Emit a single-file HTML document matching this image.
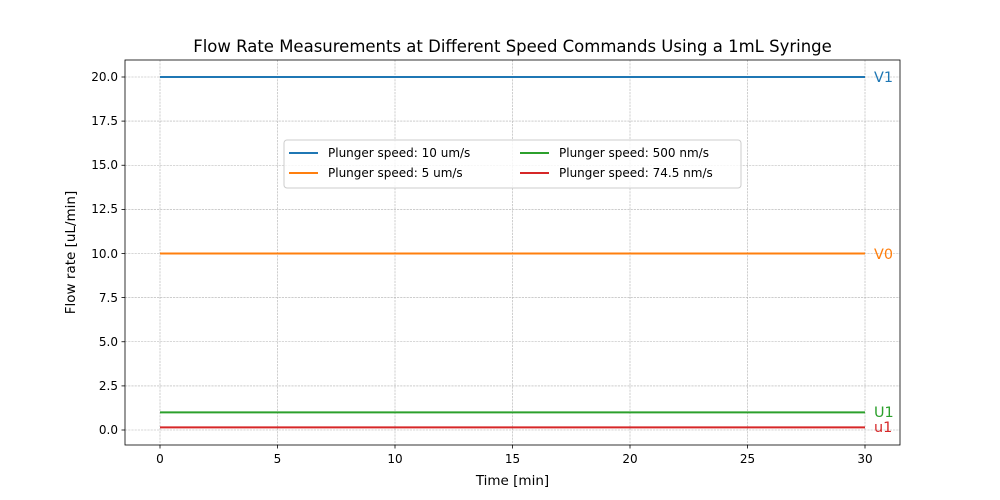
<!DOCTYPE html>
<html><head><style>body{margin:0;background:#fff}svg{display:block}</style></head><body>
<svg width="1000" height="500" xmlns="http://www.w3.org/2000/svg" font-family="DejaVu Sans, Liberation Sans, sans-serif">
<rect width="1000" height="500" fill="#fff"/>
<g stroke="#b0b0b0" stroke-width="0.6" stroke-dasharray="2.2,1">
<line x1="160" y1="60" x2="160" y2="445"/><line x1="277.5" y1="60" x2="277.5" y2="445"/><line x1="395" y1="60" x2="395" y2="445"/><line x1="512.5" y1="60" x2="512.5" y2="445"/><line x1="630" y1="60" x2="630" y2="445"/><line x1="747.5" y1="60" x2="747.5" y2="445"/><line x1="865" y1="60" x2="865" y2="445"/>
<line x1="125" y1="430" x2="900" y2="430"/><line x1="125" y1="385.9" x2="900" y2="385.9"/><line x1="125" y1="341.75" x2="900" y2="341.75"/><line x1="125" y1="297.6" x2="900" y2="297.6"/><line x1="125" y1="253.5" x2="900" y2="253.5"/><line x1="125" y1="209.4" x2="900" y2="209.4"/><line x1="125" y1="165.25" x2="900" y2="165.25"/><line x1="125" y1="121.1" x2="900" y2="121.1"/><line x1="125" y1="77" x2="900" y2="77"/>
</g>
<g stroke-width="2">
<line x1="160" y1="77" x2="865" y2="77" stroke="#1f77b4"/>
<line x1="160" y1="253.5" x2="865" y2="253.5" stroke="#ff7f0e"/>
<line x1="160" y1="412.35" x2="865" y2="412.35" stroke="#2ca02c"/>
<line x1="160" y1="427.4" x2="865" y2="427.4" stroke="#d62728"/>
</g>
<rect x="125" y="60" width="775" height="385" fill="none" stroke="#000" stroke-width="0.8"/>
<g stroke="#000" stroke-width="0.8">
<line x1="160" y1="445" x2="160" y2="448.5"/><line x1="277.5" y1="445" x2="277.5" y2="448.5"/><line x1="395" y1="445" x2="395" y2="448.5"/><line x1="512.5" y1="445" x2="512.5" y2="448.5"/><line x1="630" y1="445" x2="630" y2="448.5"/><line x1="747.5" y1="445" x2="747.5" y2="448.5"/><line x1="865" y1="445" x2="865" y2="448.5"/>
<line x1="121.5" y1="430" x2="125" y2="430"/><line x1="121.5" y1="385.9" x2="125" y2="385.9"/><line x1="121.5" y1="341.75" x2="125" y2="341.75"/><line x1="121.5" y1="297.6" x2="125" y2="297.6"/><line x1="121.5" y1="253.5" x2="125" y2="253.5"/><line x1="121.5" y1="209.4" x2="125" y2="209.4"/><line x1="121.5" y1="165.25" x2="125" y2="165.25"/><line x1="121.5" y1="121.1" x2="125" y2="121.1"/><line x1="121.5" y1="77" x2="125" y2="77"/>
</g>
<g font-size="12" text-anchor="middle">
<text x="160" y="463">0</text><text x="277.5" y="463">5</text><text x="395" y="463">10</text><text x="512.5" y="463">15</text><text x="630" y="463">20</text><text x="747.5" y="463">25</text><text x="865" y="463">30</text>
</g>
<g font-size="12" text-anchor="end">
<text x="118" y="434">0.0</text><text x="118" y="390">2.5</text><text x="118" y="346">5.0</text><text x="118" y="302">7.5</text><text x="118" y="258">10.0</text><text x="118" y="213">12.5</text><text x="118" y="169">15.0</text><text x="118" y="125">17.5</text><text x="118" y="81">20.0</text>
</g>
<text x="512.5" y="485" font-size="13.5" text-anchor="middle">Time [min]</text>
<text transform="translate(75,252.5) rotate(-90)" font-size="13.5" text-anchor="middle">Flow rate [uL/min]</text>
<text x="512.5" y="52" font-size="16.5" text-anchor="middle">Flow Rate Measurements at Different Speed Commands Using a 1mL Syringe</text>
<g font-size="14.4">
<text x="874" y="82" fill="#1f77b4">V1</text>
<text x="874" y="259" fill="#ff7f0e">V0</text>
<text x="874" y="417" fill="#2ca02c">U1</text>
<text x="874" y="432" fill="#d62728">u1</text>
</g>
<rect x="284" y="140" width="457" height="48" rx="3" fill="#fff" fill-opacity="0.8" stroke="#ccc" stroke-width="1"/>
<g stroke-width="2">
<line x1="289" y1="153" x2="318" y2="153" stroke="#1f77b4"/>
<line x1="289" y1="173" x2="318" y2="173" stroke="#ff7f0e"/>
<line x1="520" y1="153" x2="549" y2="153" stroke="#2ca02c"/>
<line x1="520" y1="173" x2="549" y2="173" stroke="#d62728"/>
</g>
<g font-size="12">
<text x="328" y="157">Plunger speed: 10 um/s</text>
<text x="328" y="177">Plunger speed: 5 um/s</text>
<text x="559" y="157">Plunger speed: 500 nm/s</text>
<text x="559" y="177">Plunger speed: 74.5 nm/s</text>
</g>
</svg>
</body></html>
